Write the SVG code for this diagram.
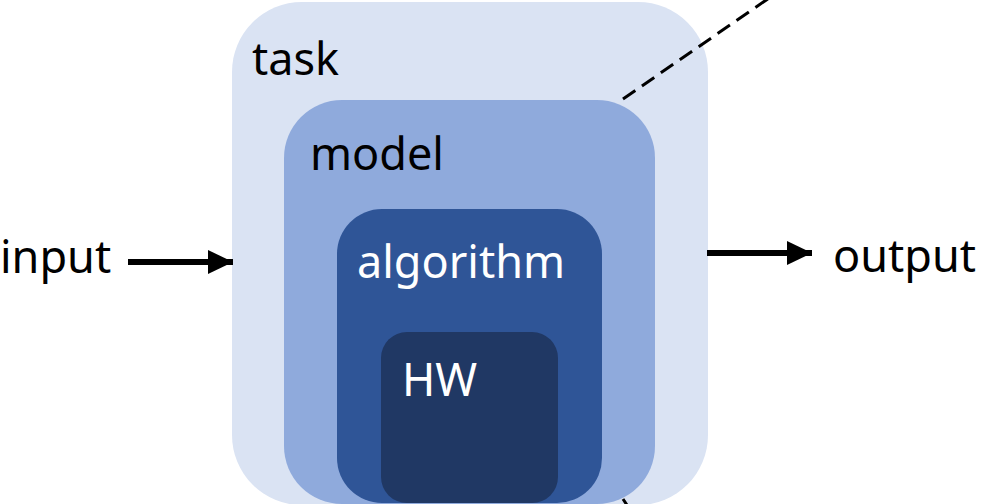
<svg xmlns="http://www.w3.org/2000/svg" width="986" height="504" viewBox="0 0 986 504">
<defs>
<style>
.lbl{font-family:"Noto Sans","Open Sans",sans-serif;font-size:45px}
.dark{fill:#000}
.light{fill:#fff}
.arrow{stroke:#000;stroke-width:6;fill:none}
.dash{stroke:#000;stroke-width:3;stroke-dasharray:15 8;fill:none}
</style>
<marker id="ah" markerWidth="25" markerHeight="24" refX="25" refY="12" orient="auto" markerUnits="userSpaceOnUse">
<path d="M0,0 L25,12 L0,24 Z" fill="#000"/>
</marker>
</defs>
<rect width="986" height="504" fill="#fff"/>
<g id="task">
<rect x="232" y="2" width="476" height="503" rx="70" ry="70" fill="#DAE3F3"/>
<text class="lbl dark" x="252" y="75">task</text>
</g>
<g id="model">
<rect x="284" y="100" width="371" height="404" rx="58" ry="58" fill="#8FAADC"/>
<text class="lbl dark" x="310" y="170">model</text>
</g>
<g id="algorithm">
<rect x="337" y="209" width="265" height="294" rx="45" ry="45" fill="#2F5597"/>
<text class="lbl light" x="357" y="278">algorithm</text>
</g>
<g id="hw">
<rect x="381" y="332" width="177" height="171" rx="26" ry="26" fill="#203864"/>
<text class="lbl light" x="402" y="396">HW</text>
</g>
<g id="input">
<text class="lbl dark" x="0" y="273">input</text>
</g>
<g id="output">
<text class="lbl dark" x="833" y="272">output</text>
</g>
<g id="connectors">
<line class="arrow" x1="128" y1="262" x2="233" y2="262" marker-end="url(#ah)"/>
<line class="arrow" x1="707" y1="253" x2="812" y2="253" marker-end="url(#ah)"/>
<line class="dash" x1="623" y1="99" x2="772" y2="-4"/>
<line class="dash" x1="623" y1="499" x2="640" y2="525"/>
</g>
</svg>
